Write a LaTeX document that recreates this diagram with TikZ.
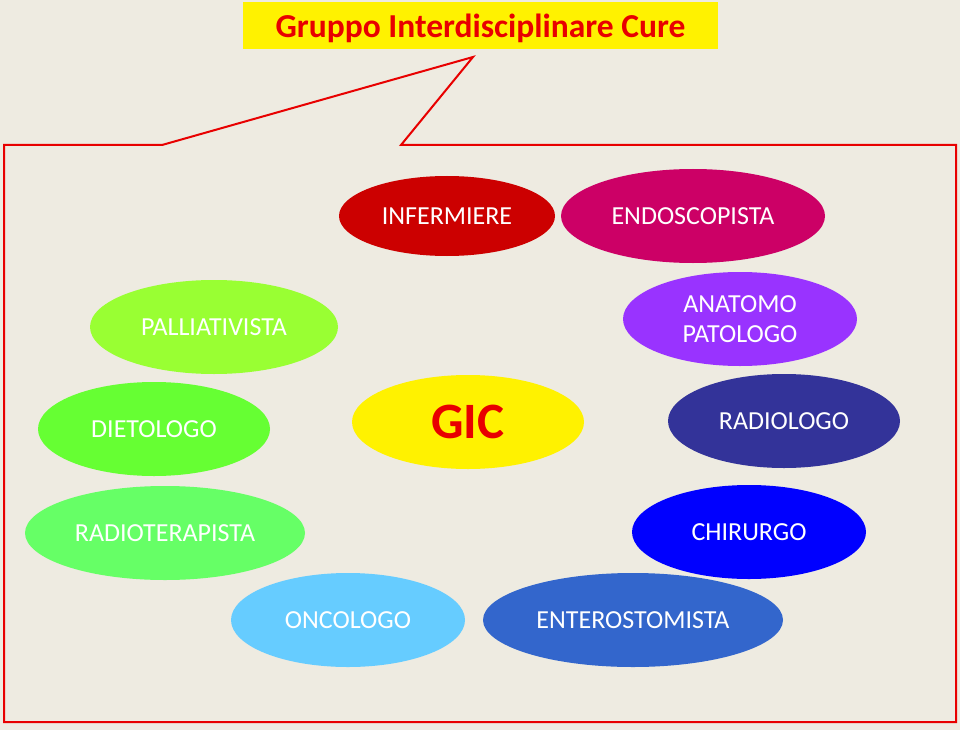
\documentclass[tikz,border=0pt]{standalone}
\usepackage{fontspec}
\setmainfont{Carlito}
\usetikzlibrary{shapes.geometric}
\definecolor{sfondo}{HTML}{EEEBE1}
\definecolor{rosso}{HTML}{E80000}
\definecolor{cInfermiere}{HTML}{CC0000}
\definecolor{cEndoscopista}{HTML}{CC0066}
\definecolor{cPalliativista}{HTML}{99FF33}
\definecolor{cAnatomo}{HTML}{9933FF}
\definecolor{cDietologo}{HTML}{66FF33}
\definecolor{cRadiologo}{HTML}{333399}
\definecolor{cRadioterapista}{HTML}{66FF66}
\definecolor{cChirurgo}{HTML}{0000FF}
\definecolor{cOncologo}{HTML}{66CCFF}
\definecolor{cEnterostomista}{HTML}{3366CC}
\begin{document}
\begin{tikzpicture}[x=1pt, y=-1pt,
    member/.style={ellipse, inner sep=0pt, text=white, align=center, font=\fontsize{26}{30}\selectfont}]
    \fill[sfondo] (0,0) rectangle (960,730);
    \useasboundingbox (0,0) rectangle (960,730);
    \node[fill=yellow, minimum width=475pt, minimum height=47pt, text depth=0pt, text=rosso, font=\bfseries\fontsize{33.5}{38}\selectfont] (title) at (480.5,25.5) {Gruppo Interdisciplinare Cure};
    \draw[rosso, line width=2pt] (162,145) -- (473,57) -- (401,145) -- (956,145) -- (956,722) -- (4,722) -- (4,145) -- cycle;
    \node[member, fill=cInfermiere, minimum width=216pt, minimum height=80pt] (infermiere) at (447,216) {INFERMIERE};
    \node[member, fill=cEndoscopista, minimum width=264pt, minimum height=94pt] (endoscopista) at (693,216) {ENDOSCOPISTA};
    \node[member, fill=cPalliativista, minimum width=248pt, minimum height=94pt] (palliativista) at (214,327) {PALLIATIVISTA};
    \node[member, fill=cAnatomo, minimum width=234pt, minimum height=94pt] (anatomo) at (740,319) {ANATOMO\\PATOLOGO};
    \node[member, fill=cDietologo, minimum width=232pt, minimum height=94pt] (dietologo) at (154,429) {DIETOLOGO};
    \node[ellipse, inner sep=0pt, fill=yellow, text=rosso, minimum width=232pt, minimum height=94pt, font=\bfseries\fontsize{51}{60}\selectfont] (gic) at (468,422) {GIC};
    \node[member, fill=cRadiologo, minimum width=232pt, minimum height=94pt] (radiologo) at (784,421) {RADIOLOGO};
    \node[member, fill=cRadioterapista, minimum width=280pt, minimum height=94pt] (radioterapista) at (165,533) {RADIOTERAPISTA};
    \node[member, fill=cChirurgo, minimum width=234pt, minimum height=94pt] (chirurgo) at (749,532) {CHIRURGO};
    \node[member, fill=cOncologo, minimum width=234pt, minimum height=94pt] (oncologo) at (348,620) {ONCOLOGO};
    \node[member, fill=cEnterostomista, minimum width=300pt, minimum height=94pt] (enterostomista) at (633,620) {ENTEROSTOMISTA};
\end{tikzpicture}
\end{document}
